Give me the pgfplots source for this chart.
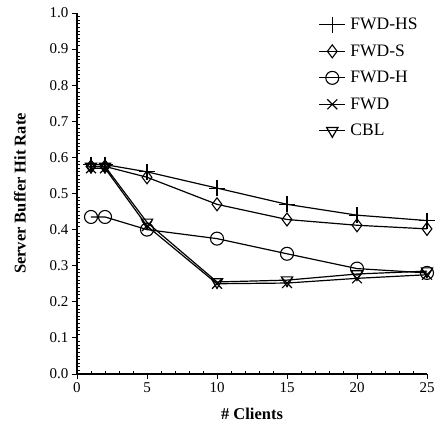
\documentclass[border=0pt]{standalone}
\usepackage{fontspec}
\setmainfont{Liberation Serif}
\usepackage{pgfplots}
\pgfplotsset{compat=1.18}

\begin{document}
\begin{tikzpicture}
  \begin{axis}[
      scale only axis,
      width=350pt, height=361pt,
      xmin=0, xmax=25, ymin=0, ymax=1,
      axis lines=left,
      axis line style={-, line width=1.2pt},
      xtick={0,5,10,15,20,25},
      ytick={0,0.1,...,1.0},
      minor x tick num=4,
      minor y tick num=9,
      tick align=outside,
      major tick length=5pt,
      minor tick length=3pt,
      minor x tick style={yshift=3pt},
      minor y tick style={xshift=3pt},
      tick style={black, line width=0.9pt},
      yticklabel style={/pgf/number format/fixed, /pgf/number format/fixed zerofill, /pgf/number format/precision=1},
      /pgf/number format/assume math mode=true,
      tick label style={font=\fontsize{15}{17}\selectfont},
      xlabel={\textbf{\# Clients}},
      ylabel={\textbf{Server Buffer Hit Rate}},
      label style={font=\fontsize{16.5}{18}\selectfont},
      xlabel style={at={(axis description cs:0.5,0)}, anchor=center, yshift=-40pt},
      ylabel style={at={(axis description cs:0,0.5)}, anchor=center, yshift=57pt},
      every axis plot/.append style={black, line width=1.2pt, mark options={solid, line width=1.1pt, fill=white}},
      legend style={draw=none, fill=none, at={(axis description cs:0.69,1.0)}, anchor=north west, yshift=-3pt,
                    font=\fontsize{17.5}{19}\selectfont, row sep=9.5pt, inner sep=0pt, nodes={inner xsep=4.5pt}},
      legend cell align=left,
      legend image code/.code={\draw[mark repeat=2, mark phase=2] plot coordinates {(0pt,0pt) (13pt,0pt) (26pt,0pt)};},
    ]
    \addplot[mark=+, mark size=8pt] coordinates {(1,0.58) (2,0.58) (5,0.56) (10,0.515) (15,0.47) (20,0.44) (25,0.425)};
    \addlegendentry{FWD-HS}
    \addplot[mark=diamond, mark size=6.5pt] coordinates {(1,0.575) (2,0.575) (5,0.545) (10,0.47) (15,0.428) (20,0.412) (25,0.402)};
    \addlegendentry{FWD-S}
    \addplot[mark=o, mark size=6.5pt] coordinates {(1,0.435) (2,0.435) (5,0.40) (10,0.375) (15,0.333) (20,0.292) (25,0.28)};
    \addlegendentry{FWD-H}
    \addplot[mark=x, mark size=7pt] coordinates {(1,0.57) (2,0.57) (5,0.41) (10,0.25) (15,0.252) (20,0.265) (25,0.275)};
    \addlegendentry{FWD}
    \addplot[mark=triangle, mark size=6.5pt, mark options={rotate=180}] coordinates {(1,0.575) (2,0.575) (5,0.42) (10,0.255) (15,0.26) (20,0.277) (25,0.285)};
    \addlegendentry{CBL}
    \path (rel axis cs:0,0) ++(-77pt,-54pt) coordinate (bbl);
    \path (rel axis cs:1,1) ++(11pt,13pt) coordinate (bbr);
  \end{axis}
  \pgfresetboundingbox
  \useasboundingbox (bbl) rectangle (bbr);
\end{tikzpicture}
\end{document}
